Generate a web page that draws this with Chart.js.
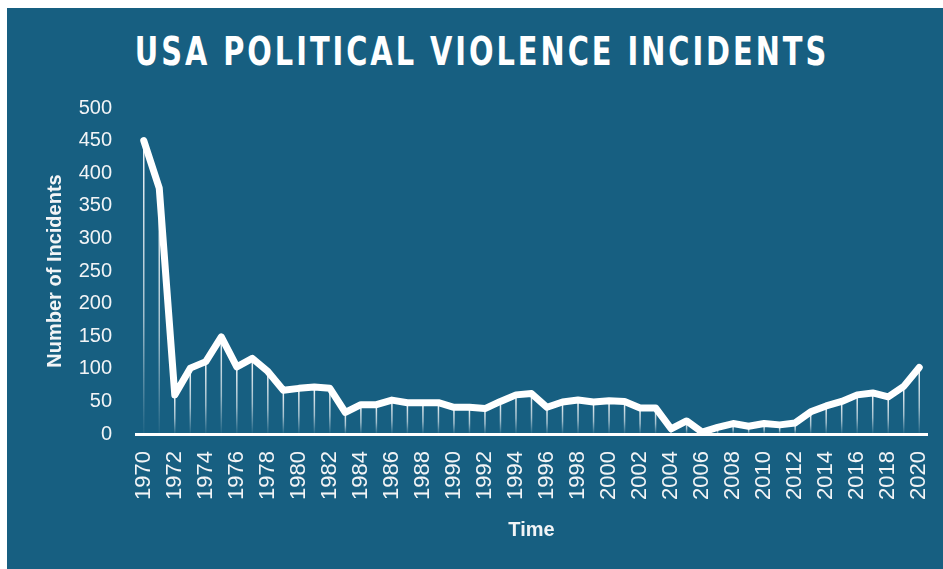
<!DOCTYPE html>
<html>
<head>
<meta charset="utf-8">
<title>USA Political Violence Incidents</title>
<script src="https://cdn.jsdelivr.net/npm/chart.js@4.4.1/dist/chart.umd.min.js"></script>
<style>
    html, body { margin: 0; padding: 0; background: #ffffff; }
    #panel {
        position: absolute; left: 7px; top: 8px;
        width: 936px; height: 561px;
        background: #175f81;
    }
    #title {
        position: absolute; left: 475px; top: 24px;
        white-space: nowrap; color: #ffffff;
        font: bold 39px/39px "DejaVu Sans", sans-serif;
        letter-spacing: 4px;
        transform: translateX(-50%) scaleX(0.74);
        transform-origin: 50% 50%;
    }
    #wrap { position: absolute; left: 0; top: 0; width: 936px; height: 561px; }
</style>
</head>
<body>
<div id="panel">
    <div id="title">USA POLITICAL VIOLENCE INCIDENTS</div>
    <div id="wrap"><canvas id="incidentsChart"></canvas></div>
</div>
<script>
// Yearly counts of political violence incidents, 1970-2020
const years = [
    '1970', '1971', '1972', '1973', '1974', '1975', '1976', '1977', '1978', '1979',
    '1980', '1981', '1982', '1983', '1984', '1985', '1986', '1987', '1988', '1989',
    '1990', '1991', '1992', '1993', '1994', '1995', '1996', '1997', '1998', '1999',
    '2000', '2001', '2002', '2003', '2004', '2005', '2006', '2007', '2008', '2009',
    '2010', '2011', '2012', '2013', '2014', '2015', '2016', '2017', '2018', '2019',
    '2020'
];
const incidents = [
    450, 377, 60, 101, 111, 149, 103, 116, 96, 67,
    70, 72, 70, 33, 45, 45, 52, 48, 48, 48,
    41, 41, 39, 50, 60, 62, 41, 49, 52, 49,
    51, 50, 40, 40, 8, 20, 3, 10, 16, 12,
    16, 14, 17, 34, 43, 50, 60, 63, 57, 73,
    102
];
const Y_MAX = 500;
const Y_STEP = 50;

const TEXT_COLOR = '#f2f4f6';
const FONT_FAMILY = "'Liberation Sans', Arial, sans-serif";

// Thin vertical lines from each point down to the baseline, fading out
const dropLines = {
    id: 'dropLines',
    beforeDatasetsDraw(chart) {
        const meta = chart.getDatasetMeta(0);
        const base = chart.scales.y.getPixelForValue(0);
        const ctx = chart.ctx;
        ctx.save();
        ctx.lineWidth = 1.5;
        meta.data.forEach(pt => {
            if (base - pt.y < 2) return;
            const grad = ctx.createLinearGradient(0, pt.y, 0, base);
            grad.addColorStop(0, 'rgba(255, 255, 255, 0.95)');
            grad.addColorStop(0.6, 'rgba(255, 255, 255, 0.6)');
            grad.addColorStop(1, 'rgba(255, 255, 255, 0.03)');
            ctx.strokeStyle = grad;
            ctx.beginPath();
            ctx.moveTo(pt.x, pt.y);
            ctx.lineTo(pt.x, base);
            ctx.stroke();
        });
        ctx.restore();
    }
};

new Chart(document.getElementById('incidentsChart'), {
    type: 'line',
    data: {
        labels: years,
        datasets: [{
            label: 'Incidents',
            data: incidents,
            borderColor: '#ffffff',
            borderWidth: 7,
            borderCapStyle: 'round',
            borderJoinStyle: 'round',
            pointRadius: 0,
            tension: 0,
            fill: false,
            clip: false
        }]
    },
    options: {
        responsive: true,
        maintainAspectRatio: false,
        animation: false,
        layout: {
            padding: { top: 100, right: 16, bottom: 23, left: 32 }
        },
        plugins: {
            legend: { display: false },
            tooltip: { enabled: false }
        },
        scales: {
            x: {
                offset: true,
                grid: { display: false, drawTicks: false },
                border: { display: true, color: '#ffffff', width: 3 },
                ticks: {
                    autoSkip: false,
                    minRotation: 90,
                    maxRotation: 90,
                    padding: 17,
                    color: TEXT_COLOR,
                    font: { family: FONT_FAMILY, size: 22 },
                    callback: function(value, index) {
                        return index % 2 === 0 ? years[index] : '';
                    }
                },
                title: {
                    display: true,
                    text: 'Time',
                    color: TEXT_COLOR,
                    font: { family: FONT_FAMILY, size: 20, weight: 'bold' },
                    padding: { top: 4, bottom: 4 }
                },
                afterFit: function(scale) {
                    scale.height = 112;
                    // rotated labels need no extra side room
                    scale.paddingLeft = 0;
                    scale.paddingRight = 0;
                }
            },
            y: {
                min: 0,
                max: Y_MAX,
                grid: { display: false, drawTicks: false },
                border: { display: false },
                ticks: {
                    stepSize: Y_STEP,
                    padding: 24,
                    color: TEXT_COLOR,
                    font: { family: FONT_FAMILY, size: 20 }
                },
                title: {
                    display: true,
                    text: 'Number of Incidents',
                    color: TEXT_COLOR,
                    font: { family: FONT_FAMILY, size: 20, weight: 'bold' },
                    padding: { top: 4, bottom: 4 }
                },
                afterFit: function(scale) { scale.width = 97; }
            }
        }
    },
    plugins: [dropLines]
});
</script>
</body>
</html>
